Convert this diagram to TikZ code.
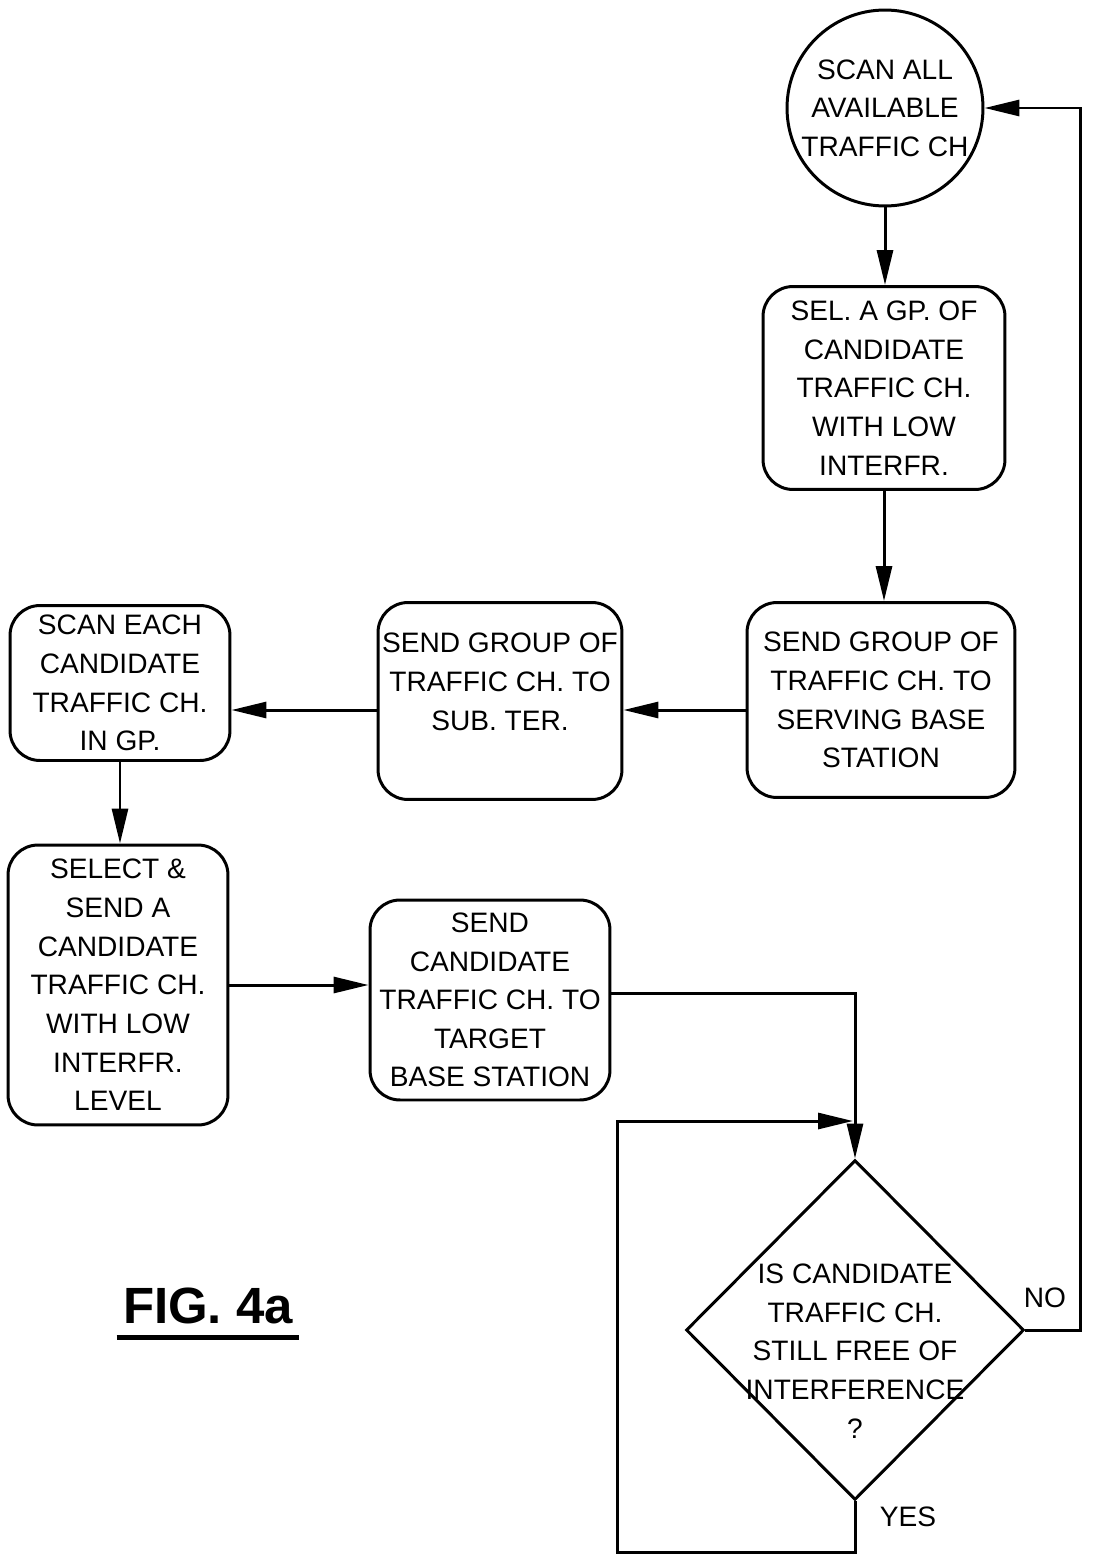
\documentclass[tikz,border=0pt]{standalone}
\usepackage{fontspec}
\setmainfont{Liberation Sans}
\usetikzlibrary{arrows.meta, shapes.geometric, positioning}

\begin{document}
\begin{tikzpicture}[x=0.02cm, y=-0.02cm,
                        line width=1.7pt,
                        flow/.style={draw, -{Triangle[length=0.7cm,width=0.32cm]}},
                        stepbox/.style={draw, rounded corners=0.6cm, inner sep=0pt},
                        every node/.style={font=\fontsize{16}{22}\selectfont, align=center}]

        \useasboundingbox (0,0) rectangle (1095,1555);

        % Start circle
        \node[draw, circle, inner sep=0pt, minimum size=3.92cm] (scan) at (885,108)
            {SCAN ALL\\AVAILABLE\\TRAFFIC CH};

        % Right column
        \node[stepbox, minimum width=4.84cm, minimum height=4.06cm] (sel) at (884,388)
            {SEL. A GP. OF\\CANDIDATE\\TRAFFIC CH.\\WITH LOW\\INTERFR.};
        \node[stepbox, minimum width=5.36cm, minimum height=3.9cm] (serv) at (881,700)
            {SEND GROUP OF\\TRAFFIC CH. TO\\SERVING BASE\\STATION};

        % Middle row
        \node[stepbox, minimum width=4.88cm, minimum height=3.94cm] (sub) at (500,701)
            {SEND GROUP OF\\TRAFFIC CH. TO\\SUB. TER.\\\mbox{}};
        \node[stepbox, minimum width=4.4cm, minimum height=3.1cm] (scaneach) at (120,683)
            {SCAN EACH\\CANDIDATE\\TRAFFIC CH.\\IN GP.};

        % Lower row
        \node[stepbox, minimum width=4.4cm, minimum height=5.6cm] (select) at (118,985)
            {SELECT \&\\SEND A\\CANDIDATE\\TRAFFIC CH.\\WITH LOW\\INTERFR.\\LEVEL};
        \node[stepbox, minimum width=4.8cm, minimum height=4cm] (target) at (490,1000)
            {SEND\\CANDIDATE\\TRAFFIC CH. TO\\TARGET\\BASE STATION};

        % Decision
        \node[draw, diamond, minimum width=6.76cm, minimum height=6.8cm, inner sep=0pt] (decide) at (855,1330) {};
        \node (decidetext) at (855,1351)
            {IS CANDIDATE\\TRAFFIC CH.\\STILL FREE OF\\INTERFERENCE\\?};

        % Turning points of the loops
        \coordinate (noturn) at (1080,700);
        \coordinate (yesturn) at (617,1552);
        \coordinate (merge) at (853,1121);

        % Connectors
        \draw[flow] (scan.south) -- (scan.south |- sel.north);
        \draw[flow] (sel.south) -- (sel.south |- serv.north);
        \draw[flow] ([yshift=-0.2cm]serv.west) -- ([yshift=-0.2cm]serv.west -| sub.east);
        \draw[flow] ([yshift=-0.18cm]sub.west) -- ([yshift=-0.18cm]sub.west -| scaneach.east);
        \draw[flow] (scaneach.south) -- (scaneach.south |- select.north);
        \draw[flow] (select.east) -- (select.east -| target.west);
        \draw[flow] ([yshift=0.14cm]target.east) -| (decide.north);
        \draw[flow] (decide.east) -| (noturn) |- (scan.east);
        \draw[flow] (decide.south) |- (yesturn) |- (merge);

        % Branch labels
        \node (nolabel) at (1045,1298) {NO};
        \node (yeslabel) at (908,1517) {YES};

        % Figure caption
        \node[font=\fontsize{29}{34}\selectfont\bfseries, inner sep=0pt] (figlabel) at (208,1306) {FIG. 4a};
        \draw[line width=2.6pt] ([xshift=-0.1cm,yshift=-0.24cm]figlabel.south west)
            -- ([xshift=0.1cm,yshift=-0.24cm]figlabel.south east);

    \end{tikzpicture}
\end{document}
